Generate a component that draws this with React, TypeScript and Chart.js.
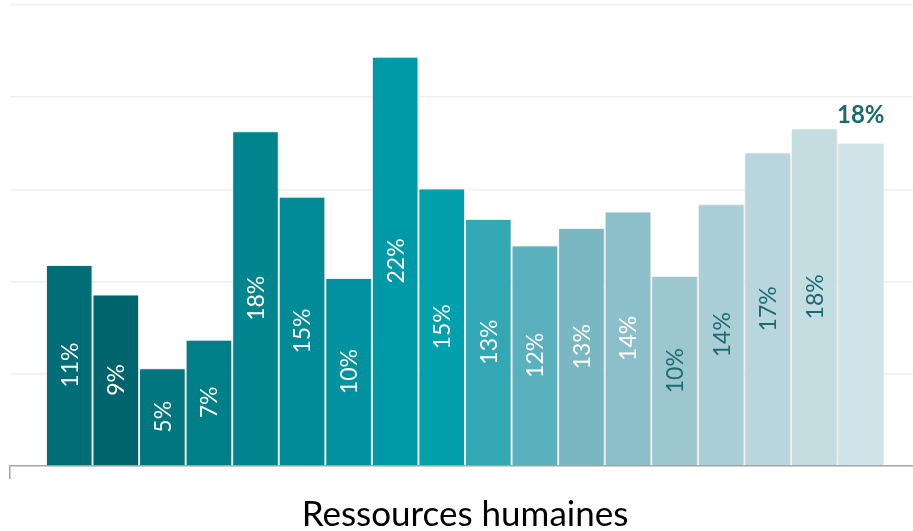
import React, { useEffect, useRef } from "react";
import { Chart, registerables } from "chart.js";

Chart.register(...registerables);

const categories = ["Ressources humaines"];
const seriesValues = [10.9, 9.3, 5.3, 6.85, 18.15, 14.6, 10.2, 22.2, 15.05, 13.4, 11.96, 12.9, 13.8, 10.3, 14.2, 17.0, 18.3, 17.5];
const seriesColors = [
  "#006d77", "#00646d", "#00777f", "#007f88", "#00858f", "#008b96", "#00929e", "#0099a8",
  "#00a0ad", "#34a7b5", "#5bb0bd", "#79b8c3", "#8bbfc9", "#9dc7cf", "#abcfd6", "#b8d6dc",
  "#c4dde1", "#d0e3e6",
];
const labelColors = [
  "#ffffff", "#ffffff", "#ffffff", "#ffffff", "#ffffff", "#ffffff", "#ffffff", "#ffffff",
  "#ffffff", "#ffffff", "#ffffff", "#ffffff", "#ffffff", "#1c6a71", "#1c6a71", "#1c6a71",
  "#1c6a71", "#1c6a71",
];
const yTicks = [0, 5, 10, 15, 20, 25];
const highlightIndex = 17;

const labelPlugin = {
  id: "barLabels",
  beforeDatasetsDraw(chart: any) {
    const ctx = chart.ctx;
    ctx.save();
    ctx.shadowColor = "rgba(0,0,0,0.16)";
    ctx.shadowBlur = 4;
    ctx.shadowOffsetX = 1;
    ctx.shadowOffsetY = 0;
  },
  afterDatasetsDraw(chart: any) {
    const ctx = chart.ctx;
    ctx.restore();
    chart.data.datasets.forEach((ds: any, i: number) => {
      const meta = chart.getDatasetMeta(i);
      const bar = meta.data[0];
      if (!bar) return;
      const v = ds.data[0];
      const text = Math.round(v) + "%";
      ctx.save();
      if (i === highlightIndex) {
        ctx.font = "bold 24px Lato";
        ctx.fillStyle = "#1c6a71";
        ctx.textAlign = "center";
        ctx.textBaseline = "middle";
        ctx.fillText(text, bar.x, bar.y - 28);
      } else {
        ctx.translate(bar.x, (bar.y + bar.base) / 2);
        ctx.rotate(-Math.PI / 2);
        ctx.font = "23px Lato";
        ctx.fillStyle = labelColors[i];
        ctx.textAlign = "center";
        ctx.textBaseline = "middle";
        ctx.fillText(text, 0, 1);
      }
      ctx.restore();
    });
  },
};

export default function App() {
  const ref = useRef<HTMLCanvasElement>(null);
  useEffect(() => {
    if (!ref.current) return;
    const chart = new Chart(ref.current, {
      type: "bar",
      data: {
        labels: categories,
        datasets: seriesValues.map((v, i) => ({
          label: "S" + (i + 1),
          data: [v],
          backgroundColor: seriesColors[i],
          borderColor: "#ffffff",
          borderWidth: 1,
          categoryPercentage: 0.921,
          barPercentage: 1,
        })),
      },
      options: {
        animation: false,
        responsive: false,
        devicePixelRatio: 1,
        layout: { padding: { left: 10, top: 5, right: 0, bottom: 0 } },
        plugins: { legend: { display: false }, tooltip: { enabled: false } },
        scales: {
          x: {
            afterFit: (axis: any) => {
              axis.height = 65;
            },
            grid: {
              display: true,
              offset: true,
              drawOnChartArea: false,
              drawTicks: true,
              tickLength: 13,
              color: "#a6a6a6",
              lineWidth: 1.5,
            },
            border: { display: true, color: "#a6a6a6", width: 1.5 },
            ticks: {
              font: { family: "Lato", size: 35 },
              color: "#000000",
              padding: 15,
            },
          },
          y: {
            min: 0,
            max: 25,
            afterBuildTicks: (axis: any) => {
              axis.ticks = yTicks.map((v) => ({ value: v }));
            },
            ticks: { display: false },
            grid: { color: "#f0f0f0", lineWidth: 1.5, drawTicks: false },
            border: { display: false },
          },
        },
      },
      plugins: [labelPlugin],
    });
    return () => chart.destroy();
  }, []);
  return (
    <div style={{ position: "fixed", left: 0, top: 0, width: 913, height: 531, overflow: "hidden", background: "#fff" }}>
      <canvas ref={ref} width={920} height={531} style={{ width: 920, height: 531, display: "block" }} />
    </div>
  );
}
